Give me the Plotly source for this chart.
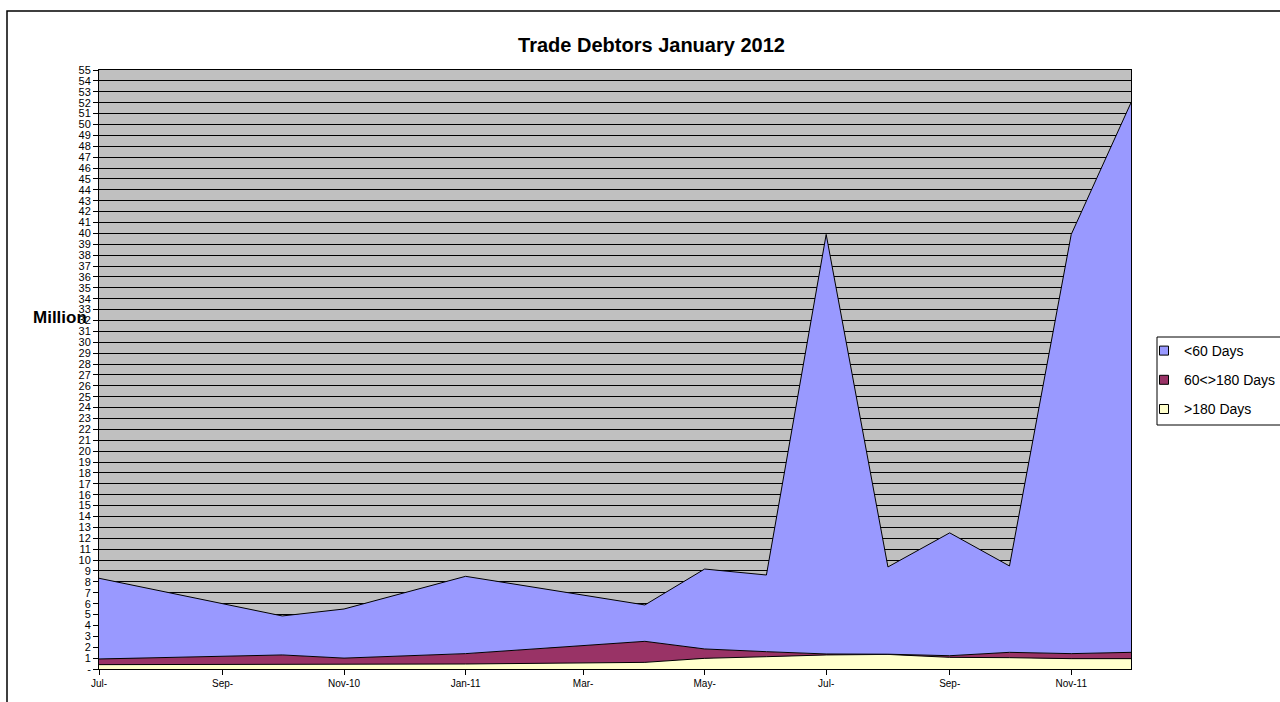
import plotly.graph_objects as go

dates = ["2010-07-01", "2010-10-01", "2010-11-01", "2011-01-01", "2011-04-01",
         "2011-05-01", "2011-06-01", "2011-07-01", "2011-08-01", "2011-09-01",
         "2011-10-01", "2011-11-01", "2011-12-01"]
over_180 = [0.40, 0.45, 0.45, 0.46, 0.61, 0.98, 1.13, 1.29, 1.34, 1.07, 1.04, 0.95, 0.95]
d60_180 = [0.52, 0.84, 0.55, 0.95, 1.93, 0.86, 0.46, 0.09, 0.02, 0.15, 0.49, 0.46, 0.58]
under_60 = [7.41, 3.58, 4.51, 7.10, 3.34, 7.34, 7.04, 38.52, 8.01, 11.28, 7.93, 38.49, 50.47]

x_tick_vals = ["2010-07-01", "2010-09-01", "2010-11-01", "2011-01-01", "2011-03-01",
               "2011-05-01", "2011-07-01", "2011-09-01", "2011-11-01"]
x_tick_text = ["Jul-", "Sep-", "Nov-10", "Jan-11", "Mar-", "May-", "Jul-", "Sep-", "Nov-11"]
y_tick_vals = list(range(0, 56))
y_tick_text = ["-"] + [str(v) for v in range(1, 56)]

series = [
    (">180 Days", over_180, "#FFFFCC"),
    ("60<>180 Days", d60_180, "#993366"),
    ("<60 Days", under_60, "#9999FF"),
]

fig = go.Figure()
for name, vals, col in series:
    fig.add_trace(go.Scatter(
        x=dates, y=vals, name=name, mode="lines", stackgroup="one",
        showlegend=False, hoverinfo="x+y+name",
        line=dict(color="black", width=1), fillcolor=col,
    ))

# legend entries (square swatches as in the original)
for name, vals, col in reversed(series):
    fig.add_trace(go.Scatter(
        x=[None], y=[None], name=name, mode="markers", legendgroup=name,
        marker=dict(symbol="square", size=9, color=col, line=dict(color="black", width=1)),
    ))

L = 1157
fig.update_layout(
    width=1280, height=702,
    margin=dict(l=99, r=149, t=70, b=33, autoexpand=False),
    paper_bgcolor="white", plot_bgcolor="#C0C0C0",
    font=dict(family="Liberation Sans, Arial", color="black"),
    title=dict(text="<b>Trade Debtors January 2012</b>", x=651.5 / 1280, xanchor="center",
               y=1 - 45 / 702, yanchor="middle", font=dict(size=20, color="black")),
    showlegend=True,
    legend=dict(x=(L - 13 - 99) / 1032, y=(669 - 335) / 599, xanchor="left", yanchor="top",
                bgcolor="rgba(0,0,0,0)", borderwidth=0,
                font=dict(size=14, color="black"),
                traceorder="grouped", tracegroupgap=8),
    xaxis=dict(type="date", range=["2010-07-01", "2011-12-01"],
               tickmode="array", tickvals=x_tick_vals, ticktext=x_tick_text,
               tickfont=dict(size=10), ticks="outside", ticklen=5, tickcolor="black",
               showgrid=False, showline=True, linecolor="black", linewidth=1, mirror=True,
               zeroline=False),
    yaxis=dict(range=[0, 55], tickmode="array", tickvals=y_tick_vals, ticktext=y_tick_text,
               tickfont=dict(size=11), ticks="outside", ticklen=5, tickcolor="black",
               showgrid=True, gridcolor="black", gridwidth=1,
               showline=True, linecolor="black", linewidth=1, mirror=True,
               zeroline=False),
    annotations=[dict(text="<b>Million</b>", xref="paper", yref="paper",
                      x=(60 - 99) / 1032, y=(669 - 317) / 599, showarrow=False,
                      xanchor="center", yanchor="middle", font=dict(size=17, color="black"))],
    shapes=[
        dict(type="rect", xref="paper", yref="paper",
             x0=(7 - 99) / 1032, x1=1.3, y0=-0.2, y1=(669 - 11) / 599,
             line=dict(color="black", width=1.5), fillcolor="rgba(0,0,0,0)", layer="below"),
        dict(type="rect", xref="paper", yref="paper",
             x0=(L - 99) / 1032, x1=1.3, y0=(669 - 425) / 599, y1=(669 - 337) / 599,
             line=dict(color="black", width=1), fillcolor="rgba(0,0,0,0)", layer="below"),
    ],
)

fig.write_html("out.html")
